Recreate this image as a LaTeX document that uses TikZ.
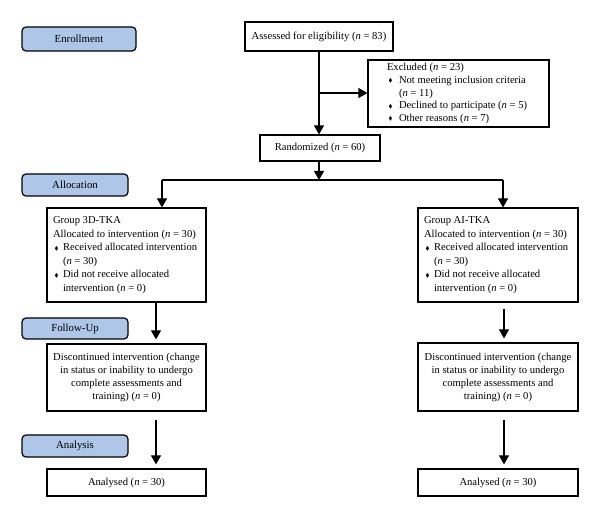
\documentclass[tikz,border=0pt]{standalone}
\usepackage{fontspec}
\setmainfont{Liberation Serif}
\usepackage{amssymb}
\usetikzlibrary{arrows.meta,calc}
\definecolor{phase}{HTML}{AEC6E8}
\newcommand{\nn}[1]{(\textit{n}~=~#1)}
\newcommand{\bul}{\hspace*{1.5pt}\raisebox{0.6pt}{\scalebox{0.55}{$\blacklozenge$}}}
\newcommand{\li}[2][10pt]{\makebox[#1][l]{\bul}#2\par}
\newcommand{\lc}[2][10pt]{\hspace*{#1}#2\par}
\newcommand{\lp}[1]{#1\par}
\newenvironment{blk}[1]{\begin{minipage}{#1}\raggedright\parindent=0pt\parskip=0pt}{\end{minipage}}
\tikzset{
  box/.style={draw, line width=1.2pt, fill=white, inner sep=0pt, font=\fontsize{10.6}{13.5}\selectfont},
  phasebox/.style={draw, line width=1.2pt, fill=phase, rounded corners=4pt, inner sep=0pt, font=\fontsize{10.8}{12}\selectfont},
  arr/.style={line width=1.2pt, -{Triangle[length=9pt,width=10pt]}},
  ln/.style={line width=1.2pt}
}
\begin{document}
\begin{tikzpicture}[x=1pt,y=-1pt]
\useasboundingbox (0,0) rectangle (600,518);
% phase labels
\node[phasebox, minimum width=114pt, minimum height=24pt] (enroll) at (79,39) {Enrollment};
\node[phasebox, minimum width=106pt, minimum height=22pt] (alloc) at (75,185) {Allocation};
\node[phasebox, minimum width=106pt, minimum height=21pt] (follow) at (75,328.5) {Follow-Up};
\node[phasebox, minimum width=106pt, minimum height=22pt] (analysis) at (75,446) {Analysis};
% main boxes
\node[box, minimum width=148pt, minimum height=29pt] (assess) at (319,36.5) {Assessed for eligibility \nn{83}};
\node[box, minimum width=181pt, minimum height=67pt, font=\fontsize{10.6}{12.6}\selectfont] (excl) at (458.5,93.5) {\begin{blk}{143pt}
\lp{Excluded \nn{23}}
\li[12pt]{Not meeting inclusion criteria}
\lc[12pt]{\nn{11}}
\li[12pt]{Declined to participate \nn{5}}
\li[12pt]{Other reasons \nn{7}}
\end{blk}};
\node[box, minimum width=120pt, minimum height=26pt] (rand) at (320,148) {Randomized \nn{60}};
\node[box, minimum width=159pt, minimum height=94pt] (g3d) at (126.5,255) {\begin{blk}{147pt}
\lp{Group 3D-TKA}
\lp{Allocated to intervention \nn{30}}
\li{Received allocated intervention}
\lc{\nn{30}}
\li{Did not receive allocated}
\lc{intervention \nn{0}}
\end{blk}};
\node[box, minimum width=160pt, minimum height=94pt] (gai) at (498,255) {\begin{blk}{148pt}
\lp{Group AI-TKA}
\lp{Allocated to intervention \nn{30}}
\li{Received allocated intervention}
\lc{\nn{30}}
\li{Did not receive allocated}
\lc{intervention \nn{0}}
\end{blk}};
\node[box, align=center, minimum width=159pt, minimum height=67pt, font=\fontsize{10.6}{13}\selectfont] (d3d) at (126.5,377.5) {Discontinued intervention (change\\in status or inability to undergo\\complete assessments and\\training) \nn{0}};
\node[box, align=center, minimum width=160pt, minimum height=68pt, font=\fontsize{10.6}{13}\selectfont] (dai) at (498,377) {Discontinued intervention (change\\in status or inability to undergo\\complete assessments and\\training) \nn{0}};
\node[box, minimum width=159pt, minimum height=27pt] (a3d) at (126.5,482.5) {Analysed \nn{30}};
\node[box, minimum width=160pt, minimum height=27pt] (aai) at (498,482.5) {Analysed \nn{30}};
% connectors
\coordinate (split) at (319,180);
\coordinate (exj) at (319,93);
\draw[arr] (assess.south -| exj) -- (rand.north -| exj);
\draw[arr] (exj) -- (exj -| excl.west);
\draw[arr] (rand.south -| split) -- (split);
\coordinate (lt) at (162,180);
\coordinate (rt) at (503,180);
\draw[ln] (lt) -- (rt);
\draw[arr] (lt) -- (lt |- g3d.north);
\draw[arr] (rt) -- (rt |- gai.north);
\coordinate (lx) at (156,0);
\coordinate (rx) at (504,0);
\draw[arr, shorten >=4pt] (g3d.south -| lx) -- (d3d.north -| lx);
\draw[arr, shorten <=6pt, shorten >=4pt] (gai.south -| rx) -- (dai.north -| rx);
\draw[arr, shorten <=8pt, shorten >=4pt] (d3d.south -| lx) -- (a3d.north -| lx);
\draw[arr, shorten <=8pt, shorten >=4pt] (dai.south -| rx) -- (aai.north -| rx);
\end{tikzpicture}
\end{document}
